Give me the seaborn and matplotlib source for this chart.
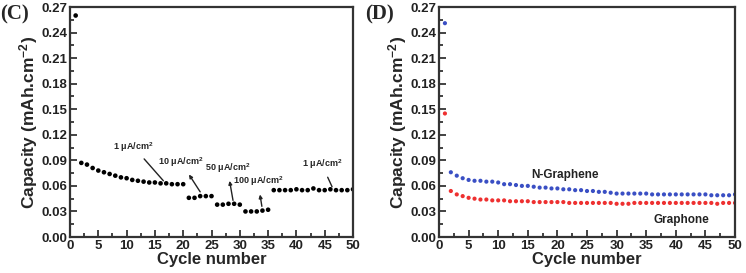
import numpy as np
import pandas as pd
import matplotlib
matplotlib.use("Agg")
import matplotlib.pyplot as plt
import seaborn as sns
from matplotlib.ticker import MultipleLocator

# (C) rate capability
cycles_c = list(range(1, 51))
cap_c = [0.260,
         0.087, 0.085, 0.081, 0.078, 0.076, 0.074, 0.072, 0.070, 0.069, 0.067,
         0.066, 0.065, 0.064, 0.064, 0.063, 0.063, 0.062, 0.062, 0.062,
         0.046, 0.046, 0.048, 0.048, 0.048,
         0.038, 0.038, 0.039, 0.039, 0.038,
         0.030, 0.030, 0.030, 0.031, 0.032,
         0.055, 0.055, 0.055, 0.055, 0.056, 0.055, 0.055, 0.057, 0.055, 0.055,
         0.056, 0.055, 0.055, 0.055, 0.056]

# (D) N-Graphene vs Graphene
cycles_d = list(range(1, 51))
cap_ngr = [0.251, 0.076, 0.072, 0.069, 0.067, 0.066, 0.066, 0.065, 0.065, 0.064,
           0.062, 0.062, 0.061, 0.060, 0.060, 0.059, 0.058, 0.058, 0.057, 0.057,
           0.056, 0.056, 0.055, 0.055, 0.054, 0.054, 0.053, 0.053, 0.052, 0.051,
           0.051, 0.051, 0.051, 0.051, 0.051, 0.050, 0.050, 0.050, 0.050, 0.050,
           0.050, 0.050, 0.050, 0.050, 0.050, 0.049, 0.049, 0.049, 0.049, 0.050]
cap_gr = [0.145, 0.054, 0.050, 0.048, 0.046, 0.045, 0.044, 0.044, 0.043, 0.043,
          0.043, 0.042, 0.042, 0.042, 0.042, 0.041, 0.041, 0.041, 0.041, 0.041,
          0.041, 0.040, 0.040, 0.040, 0.040, 0.040, 0.040, 0.040, 0.040, 0.039,
          0.039, 0.039, 0.040, 0.040, 0.040, 0.040, 0.040, 0.040, 0.040, 0.040,
          0.040, 0.040, 0.040, 0.040, 0.040, 0.040, 0.039, 0.040, 0.040, 0.040]

rates = ["1 μA/cm$^2$", "10 μA/cm$^2$", "50 μA/cm$^2$", "100 μA/cm$^2$", "1 μA/cm$^2$"]
rate_text_xy = [(11.2, 0.106), (19.6, 0.088), (27.8, 0.081), (33.2, 0.065), (44.5, 0.085)]
rate_arrow_end = [(16.5, 0.066), (23.0, 0.053), (28.8, 0.043), (33.9, 0.036), (46.3, 0.059)]

sns.set_style("ticks")
plt.rcParams['font.family'] = ['Liberation Sans', 'DejaVu Sans']
plt.rcParams['font.weight'] = 'bold'
plt.rcParams['mathtext.fontset'] = 'custom'
plt.rcParams['mathtext.rm'] = 'Liberation Sans:bold'
plt.rcParams['mathtext.default'] = 'regular'

fig = plt.figure(figsize=(7.46, 2.73), dpi=100)
ax1 = fig.add_axes([70/746, 36/273, 283/746, 230/273])
ax2 = fig.add_axes([439/746, 36/273, 296/746, 230/273])

df_c = pd.DataFrame({"cycle": cycles_c, "cap": cap_c})
sns.scatterplot(data=df_c, x="cycle", y="cap", ax=ax1, color="black", s=11,
                edgecolor="none")

df_d = pd.DataFrame({"cycle": cycles_d * 2,
                     "cap": cap_ngr + cap_gr,
                     "sample": ["N-Graphene"] * 50 + ["Graphene"] * 50})
sns.scatterplot(data=df_d, x="cycle", y="cap", hue="sample", ax=ax2, s=9,
                palette={"N-Graphene": "#3a4fc4", "Graphene": "#ee3030"},
                edgecolor="none", legend=False)

for ax in (ax1, ax2):
    ax.set_xlim(0, 50)
    ax.set_ylim(0, 0.27)
    ax.xaxis.set_major_locator(MultipleLocator(5))
    ax.xaxis.set_minor_locator(MultipleLocator(2.5))
    ax.yaxis.set_major_locator(MultipleLocator(0.03))
    ax.yaxis.set_minor_locator(MultipleLocator(0.015))
    ax.yaxis.set_major_formatter(plt.FormatStrFormatter('%.2f'))
    ax.tick_params(which='both', direction='in', top=False, right=False,
                   labelsize=9.5, width=1.2, colors='#222222')
    ax.tick_params(which='major', length=5, pad=2)
    ax.tick_params(which='minor', length=3)
    for sp in ax.spines.values():
        sp.set_visible(True)
        sp.set_linewidth(1.6)
        sp.set_color('#333333')
    ax.set_xlabel("Cycle number", fontsize=12, fontweight='bold', labelpad=0)
    ax.set_ylabel("Capacity (mAh.cm$^{-2}$)", fontsize=12.5, fontweight='bold', labelpad=1)

for i, lab in enumerate(rates):
    style = '-' if i in (0, 4) else '<|-'
    ax1.annotate(lab, xy=rate_arrow_end[i], xytext=rate_text_xy[i],
                 ha='center', va='center', fontsize=6.5, fontweight='bold',
                 arrowprops=dict(arrowstyle=style, color='#222222', lw=1.0,
                                 mutation_scale=5, shrinkA=2, shrinkB=0))

ax2.text(21.3, 0.073, "N-Graphene", ha='center', va='center', fontsize=8.5,
         fontweight='bold', color='#222222')
ax2.text(40.9, 0.020, "Graphone", ha='center', va='center', fontsize=8.5,
         fontweight='bold', color='#222222')

fig.text(0.0, 0.93, "(C)", fontsize=15, fontweight='bold',
         family=['Liberation Serif', 'DejaVu Serif'])
fig.text(365/746, 0.93, "(D)", fontsize=15, fontweight='bold',
         family=['Liberation Serif', 'DejaVu Serif'])

fig.savefig("out.png", dpi=100)
